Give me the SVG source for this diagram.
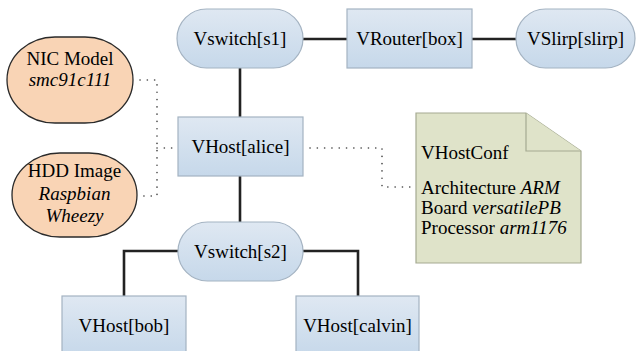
<svg xmlns="http://www.w3.org/2000/svg" width="637" height="351" viewBox="0 0 637 351">
<style>
.b{fill:url(#blue);stroke:#a4b3c2;stroke-width:1.2}
.o{fill:#f9d4b5;stroke:#2a2a2a;stroke-width:1.3}
.n{fill:#dfe3c9;stroke:#a5aa92;stroke-width:1.2}
.t{font-family:'Liberation Serif','Times New Roman',serif;font-size:19px}
.c{text-anchor:middle}
.i{font-style:italic}
.l{fill:none;stroke:#222;stroke-width:2.6}
.d{fill:none;stroke:#444;stroke-width:1.6;stroke-dasharray:0.1 7.2;stroke-linecap:round}
</style>
<defs>
<linearGradient id="blue" x1="0" y1="0" x2="0" y2="1">
<stop offset="0" stop-color="#dfe8f2"/>
<stop offset="1" stop-color="#c6d8ea"/>
</linearGradient>
</defs>
<g id="connectors">
<path class="l" d="M303 39H347M472 39H516M240 68V117M240 176V222M178 251H124V296M303 251H358V296"/>
<path class="d" d="M140 80H157V196H140M157 148H178"/>
<path class="d" d="M310 148H382V187H416"/>
</g>
<g id="s1"><rect class="b" x="177" y="9" width="126" height="59" rx="29.5"/><text class="t c" x="240" y="45">Vswitch[s1]</text></g>
<g id="box"><rect class="b" x="347" y="9" width="125" height="59"/><text class="t c" x="409.5" y="45">VRouter[box]</text></g>
<g id="slirp"><rect class="b" x="516" y="9" width="119" height="59" rx="29.5"/><text class="t c" x="575.5" y="45">VSlirp[slirp]</text></g>
<g id="alice"><rect class="b" x="178" y="117" width="125" height="59"/><text class="t c" x="240.5" y="153">VHost[alice]</text></g>
<g id="s2"><rect class="b" x="178" y="222" width="125" height="59" rx="29.5"/><text class="t c" x="240.5" y="258">Vswitch[s2]</text></g>
<g id="bob"><rect class="b" x="62" y="296" width="124" height="60"/><text class="t c" x="124" y="332">VHost[bob]</text></g>
<g id="calvin"><rect class="b" x="296" y="296" width="123" height="60"/><text class="t c" x="357.5" y="332">VHost[calvin]</text></g>
<g id="nic"><rect class="o" x="7" y="37" width="126" height="86" rx="48" ry="43"/><text class="t c" x="70" y="65">NIC Model</text><text class="t c i" x="70" y="86">smc91c111</text></g>
<g id="hdd"><rect class="o" x="12" y="153" width="125" height="84" rx="48" ry="42"/><text class="t c" x="74.5" y="177">HDD Image</text><text class="t c i" x="74.5" y="200">Raspbian</text><text class="t c i" x="74.5" y="222">Wheezy</text></g>
<g id="conf">
<path class="n" d="M416 113H526L581 151V263H416Z"/>
<path class="n" d="M526 113V151H581"/>
<text class="t" x="421" y="159">VHostConf</text>
<text class="t" x="421" y="194">Architecture <tspan class="i">ARM</tspan></text>
<text class="t" x="421" y="214">Board <tspan class="i">versatilePB</tspan></text>
<text class="t" x="421" y="234">Processor <tspan class="i">arm1176</tspan></text>
</g>
</svg>
